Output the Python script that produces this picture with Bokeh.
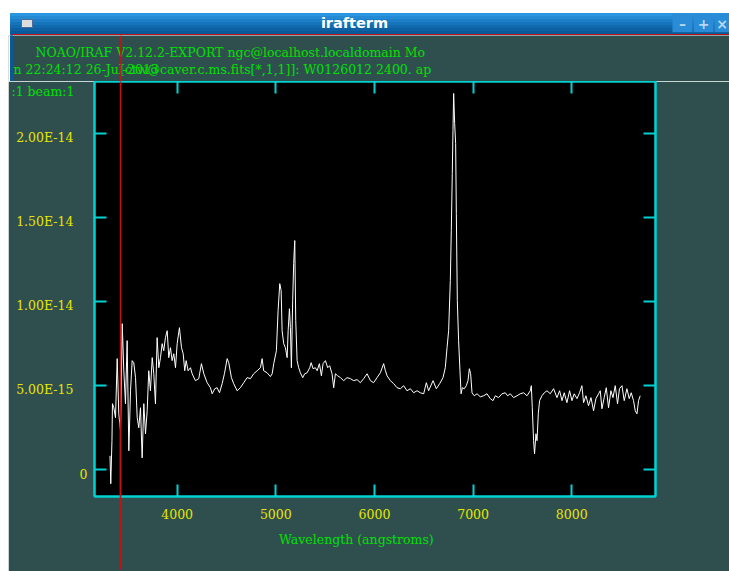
import numpy as np
from bokeh.plotting import figure
from bokeh.models import Range1d, LinearAxis, FixedTicker, Label, Span, Spacer
from bokeh.layouts import column, row
from bokeh.embed import file_html
from bokeh.resources import INLINE
from bokeh.core.properties import value

# ---------------- data ----------------
wavelength = [
    3319, 3327, 3339, 3344, 3358, 3375, 3392, 3408, 3426, 3443, 3459, 3476, 3493, 3510, 3527,
    3544, 3560, 3578, 3595, 3611, 3628, 3645, 3662, 3679, 3696, 3712, 3729, 3747, 3763, 3780,
    3797, 3814, 3831, 3848, 3864, 3881, 3899, 3915, 3932, 3949, 3966, 3983, 4000, 4023, 4044,
    4061, 4077, 4091, 4111, 4135, 4152, 4185, 4219, 4246, 4270, 4304, 4337, 4355, 4381, 4405,
    4429, 4456, 4479, 4507, 4523, 4550, 4573, 4608, 4641, 4675, 4709, 4743, 4776, 4811, 4844,
    4861, 4877, 4912, 4945, 4963, 4979, 5006, 5023, 5040, 5054, 5064, 5080, 5097, 5115, 5125,
    5138, 5148, 5158, 5171, 5181, 5192, 5202, 5216, 5232, 5249, 5273, 5293, 5317, 5344, 5358,
    5378, 5401, 5419, 5442, 5462, 5479, 5503, 5526, 5546, 5570, 5587, 5604, 5627, 5655, 5688,
    5722, 5756, 5789, 5824, 5857, 5891, 5925, 5959, 5992, 6026, 6060, 6093, 6111, 6128, 6161,
    6195, 6229, 6263, 6296, 6330, 6364, 6397, 6432, 6465, 6499, 6526, 6549, 6594, 6627, 6661,
    6695, 6718, 6736, 6752, 6769, 6779, 6789, 6796, 6803, 6813, 6823, 6830, 6840, 6853, 6867,
    6878, 6891, 6911, 6931, 6948, 6962, 6975, 6989, 7012, 7040, 7073, 7106, 7141, 7174, 7202,
    7225, 7258, 7293, 7326, 7350, 7377, 7410, 7445, 7478, 7512, 7546, 7580, 7590, 7600, 7613,
    7623, 7637, 7648, 7661, 7674, 7698, 7722, 7749, 7782, 7816, 7850, 7877, 7901, 7924, 7951,
    7978, 8002, 8025, 8053, 8079, 8103, 8120, 8144, 8170, 8195, 8221, 8245, 8272, 8289, 8306,
    8329, 8350, 8373, 8397, 8418, 8441, 8464, 8484, 8509, 8532, 8559, 8583, 8603, 8626, 8644,
    8661, 8677, 8694,
]
# flux in units of 1e-15 erg/s/cm2/A
flux_e15 = [
    0.83, -0.83, 1.73, 3.93, 3.69, 3.10, 6.61, 3.33, 2.32, 8.69, 5.89, 3.93, 7.68, 1.13, 4.70,
    6.49, 6.37, 5.48, 3.10, 2.50, 3.69, 0.71, 3.93, 2.14, 3.51, 5.89, 4.70, 6.67, 5.71, 3.93,
    7.86, 6.07, 6.67, 7.50, 7.08, 7.86, 8.27, 6.67, 7.26, 6.49, 6.90, 6.07, 7.50, 8.45, 7.26,
    6.90, 5.89, 6.49, 5.89, 6.07, 5.71, 5.30, 5.42, 6.31, 5.71, 5.18, 4.88, 4.52, 4.82, 4.88,
    4.58, 5.12, 5.71, 6.61, 6.37, 5.48, 5.12, 4.70, 4.88, 5.18, 5.48, 5.42, 5.71, 5.89, 6.07,
    6.61, 5.89, 5.77, 5.54, 5.71, 6.31, 7.08, 9.46, 11.07, 10.65, 8.27, 7.50, 7.26, 6.67, 8.27,
    9.58, 8.45, 6.07, 10.06, 12.26, 13.63, 8.87, 6.49, 6.07, 5.77, 5.48, 5.71, 5.77, 6.07, 6.37,
    6.01, 6.07, 5.89, 6.31, 5.59, 6.31, 6.49, 6.07, 6.19, 5.71, 4.88, 5.71, 5.59, 5.48, 5.30,
    5.48, 5.42, 5.30, 5.36, 5.18, 5.42, 5.71, 5.30, 5.18, 5.48, 5.77, 6.31, 5.89, 5.59, 5.30,
    5.12, 4.88, 4.82, 5.00, 4.70, 4.82, 4.58, 4.70, 4.58, 4.52, 5.18, 4.70, 5.30, 4.82, 5.12,
    5.48, 6.07, 7.26, 8.27, 11.25, 14.23, 17.62, 20.18, 22.38, 20.59, 19.40, 15.24, 10.06, 7.68, 5.89,
    4.52, 4.88, 4.82, 5.00, 5.30, 6.01, 5.71, 4.58, 4.40, 4.52, 4.34, 4.40, 4.52, 4.23, 4.11,
    4.40, 4.29, 4.52, 4.58, 4.40, 4.52, 4.29, 4.40, 4.52, 4.58, 4.40, 4.70, 5.00, 3.69, 1.73,
    0.95, 2.14, 1.73, 3.33, 4.11, 4.40, 4.58, 4.70, 4.52, 4.82, 4.29, 4.70, 4.11, 4.58, 3.99,
    4.70, 4.11, 4.52, 4.23, 4.58, 5.00, 3.99, 4.40, 3.81, 4.29, 3.51, 4.23, 4.52, 4.70, 3.63,
    4.29, 4.88, 3.69, 4.70, 4.29, 5.00, 3.93, 4.82, 5.00, 4.11, 4.82, 4.23, 4.58, 4.11, 3.51,
    3.33, 4.11, 4.40,
]
flux = np.array(flux_e15) * 1e-15

x_ticks = [4000, 5000, 6000, 7000, 8000]
y_ticks = [0.0, 5e-15, 1e-14, 1.5e-14, 2e-14]
y_tick_labels = ["0", "5.00E-15", "1.00E-14", "1.50E-14", "2.00E-14"]
x_limits = (3162, 8849)
y_limits = (-1.589e-15, 2.309e-14)
cursor_wavelength = 3429
beam_label_y = 2.28e-14

window_title = "irafterm"
header_lines = [
    "NOAO/IRAF V2.12.2-EXPORT ngc@localhost.localdomain Mo",
    "n 22:24:12 26-Jul-2013",
    "[ctw@caver.c.ms.fits[*,1,1]]: W0126012 2400. ap",
]
beam_text = ":1 beam:1"
x_axis_title = "Wavelength (angstroms)"
button_symbols = ["\u2013", "+", "\u00d7"]

# ---------------- styles ----------------
W = 721            # width of the window part (page x 8..729)
TEAL = "#2F4F4F"
CYAN = "#00D2D2"
YELLOW = "#E6E600"
GREEN = "#00E000"
RED = "#C01414"
BORDER_BLUE = "#0A5897"
SERIF = "DejaVu Serif"
FS = "12.5px"
FRAME_LEFT, FRAME_RIGHT, FRAME_BOTTOM = 86, 74, 75
FRAME_W = W - FRAME_LEFT - FRAME_RIGHT
FRAME_H = 415
LABEL_DROP_PX = 4                 # IRAF draws the y labels a little below their ticks
X_TITLE_CENTER = 5817             # IRAF centres the x title left of the frame centre


def strip_figure(height, bg, border):
    f = figure(width=W, height=height, x_range=Range1d(0, W), y_range=Range1d(0, height),
               toolbar_location=None, output_backend="svg", min_border=0,
               x_axis_location=None, y_axis_location=None, outline_line_color=None,
               background_fill_color=bg, border_fill_color=border)
    f.frame_align = False
    f.grid.visible = False
    f.title.visible = False
    return f


# ---------------- window title bar ----------------
tb = strip_figure(35, "white", "white")
band_colors = ["#2C95DF", "#248AD4", "#1C7FC8", "#1674BB", "#116AAE", "#0D61A2", "#0A5897"]
band_tops = [22, 19, 16, 13, 10, 7, 4]
band_bottoms = [19, 16, 13, 10, 7, 4, 1]
tb.quad(left=2, right=W, top=band_tops, bottom=band_bottoms, color=band_colors)
tb.quad(left=2, right=4, top=1, bottom=0, color=BORDER_BLUE)
tb.quad(left=4, right=W, top=1, bottom=0, color=RED)
tb.quad(left=13, right=24, top=16, bottom=8, fill_color="#DCDCDC", line_color="#4A6C9C")
tb.quad(left=[664, 685, 706], right=[684, 705, 726], top=21.7, bottom=3.3,
        fill_color="#2A8CD6", line_color=None)
tb.text(x=[674, 695, 713.5], y=[11.5, 11.5, 11.5], text=button_symbols, text_align="center",
        text_baseline="middle", text_color="#B8D8F2", text_font=value("DejaVu Sans"),
        text_font_style="bold", text_font_size="14px")
tb.add_layout(Label(x=346, y=12.5, text=window_title, text_align="center",
                    text_baseline="middle", text_color="white", text_font="DejaVu Sans",
                    text_font_style="bold", text_font_size="14.5px"))

# ---------------- header text strip ----------------
cursor_px = FRAME_LEFT + (cursor_wavelength - x_limits[0]) / (x_limits[1] - x_limits[0]) * FRAME_W

hd = strip_figure(46, TEAL, TEAL)
hd.quad(left=0, right=2, top=46, bottom=0, color="white")
hd.quad(left=2, right=4, top=46, bottom=0, color=BORDER_BLUE)
hd.text(x=[27, 5, 111.5], y=[29, 12, 12], text=header_lines, text_align="left",
        text_baseline="middle", text_color=GREEN, text_font=value(SERIF), text_font_size=FS)
hd.add_layout(Span(location=cursor_px, dimension="height", line_color=RED, line_width=1.5))

# ---------------- main spectrum plot ----------------
p = figure(width=W, height=490, x_range=Range1d(*x_limits), y_range=Range1d(*y_limits),
           toolbar_location=None, output_backend="svg",
           min_border_left=FRAME_LEFT, min_border_right=FRAME_RIGHT, min_border_top=0,
           min_border_bottom=FRAME_BOTTOM,
           background_fill_color="black", border_fill_color=TEAL,
           outline_line_color=CYAN, outline_line_width=2)
p.frame_align = False
p.grid.visible = False
p.title.visible = False

p.line(wavelength, flux, line_color="white", line_width=1)

# x axis: tick labels, cyan ticks, red cursor through the frame
xa = p.xaxis[0]
xa.ticker = FixedTicker(ticks=x_ticks, minor_ticks=[cursor_wavelength])
xa.major_tick_in = 12
xa.major_tick_out = 0
xa.major_tick_line_color = CYAN
xa.major_tick_line_width = 2
xa.minor_tick_in = FRAME_H
xa.minor_tick_out = 0
xa.minor_tick_line_color = RED
xa.minor_tick_line_width = 1.5
xa.axis_line_color = CYAN
xa.axis_line_width = 2
xa.major_label_text_color = YELLOW
xa.major_label_text_font = SERIF
xa.major_label_text_font_size = FS
xa.major_label_standoff = 12

# second bottom axis: red cursor below the labels + the x title where IRAF puts it
xc = LinearAxis(ticker=FixedTicker(ticks=[X_TITLE_CENTER], minor_ticks=[cursor_wavelength]),
                major_label_overrides={X_TITLE_CENTER: x_axis_title},
                major_tick_in=0, major_tick_out=0, major_tick_line_color=None,
                minor_tick_in=100, minor_tick_out=48,
                minor_tick_line_color=RED, minor_tick_line_width=1.5, axis_line_color=None,
                major_label_text_color=GREEN, major_label_text_font=SERIF,
                major_label_text_font_size=FS, major_label_standoff=-38)
p.add_layout(xc, "below")

# y axes: nearest one carries the tick marks and the "0" label
y_span = y_limits[1] - y_limits[0]
label_shift = LABEL_DROP_PX * y_span / FRAME_H
zero_pos = y_ticks[0] - label_shift
other_pos = [v - label_shift for v in y_ticks[1:]]

ya = p.yaxis[0]
ya.ticker = FixedTicker(ticks=[zero_pos], minor_ticks=y_ticks)
ya.major_label_overrides = {zero_pos: y_tick_labels[0]}
ya.major_tick_in = 0
ya.major_tick_out = 0
ya.major_tick_line_color = None
ya.minor_tick_in = 12
ya.minor_tick_out = 0
ya.minor_tick_line_color = CYAN
ya.minor_tick_line_width = 2
ya.axis_line_color = CYAN
ya.axis_line_width = 2
ya.major_label_text_color = YELLOW
ya.major_label_text_font = SERIF
ya.major_label_text_font_size = FS
ya.major_label_standoff = 7

yl = LinearAxis(ticker=FixedTicker(ticks=other_pos),
                major_label_overrides=dict(zip(other_pos, y_tick_labels[1:])),
                major_tick_in=0, major_tick_out=0, minor_tick_in=0, minor_tick_out=0,
                major_tick_line_color=None, minor_tick_line_color=None, axis_line_color=None,
                major_label_standoff=3, major_label_text_color=YELLOW,
                major_label_text_font=SERIF, major_label_text_font_size=FS)
p.add_layout(yl, "left")

yb = LinearAxis(ticker=FixedTicker(ticks=[beam_label_y]),
                major_label_overrides={beam_label_y: beam_text},
                major_tick_in=0, major_tick_out=0, minor_tick_in=0, minor_tick_out=0,
                major_tick_line_color=None, minor_tick_line_color=None, axis_line_color=None,
                major_label_standoff=-61, major_label_text_color=GREEN,
                major_label_text_font=SERIF, major_label_text_font_size=FS)
p.add_layout(yb, "left")

# mirror ticks on the right and top (no labels)
yr = LinearAxis(ticker=FixedTicker(ticks=y_ticks), major_tick_in=12, major_tick_out=0,
                major_tick_line_color=CYAN, major_tick_line_width=2,
                minor_tick_in=0, minor_tick_out=0, axis_line_color=CYAN, axis_line_width=2,
                major_label_text_color=None, major_label_text_font_size="1px",
                major_label_standoff=0)
p.add_layout(yr, "right")

xt = LinearAxis(ticker=FixedTicker(ticks=x_ticks), major_tick_in=12, major_tick_out=0,
                major_tick_line_color=CYAN, major_tick_line_width=2,
                minor_tick_in=0, minor_tick_out=0, axis_line_color=CYAN, axis_line_width=2,
                major_label_text_color=None, major_label_text_font_size="1px",
                major_label_standoff=0)
p.add_layout(xt, "above")

layout = row(Spacer(width=8, height=571), column(tb, hd, p, spacing=0), spacing=0)
open("out.html", "w").write(file_html(layout, INLINE))
